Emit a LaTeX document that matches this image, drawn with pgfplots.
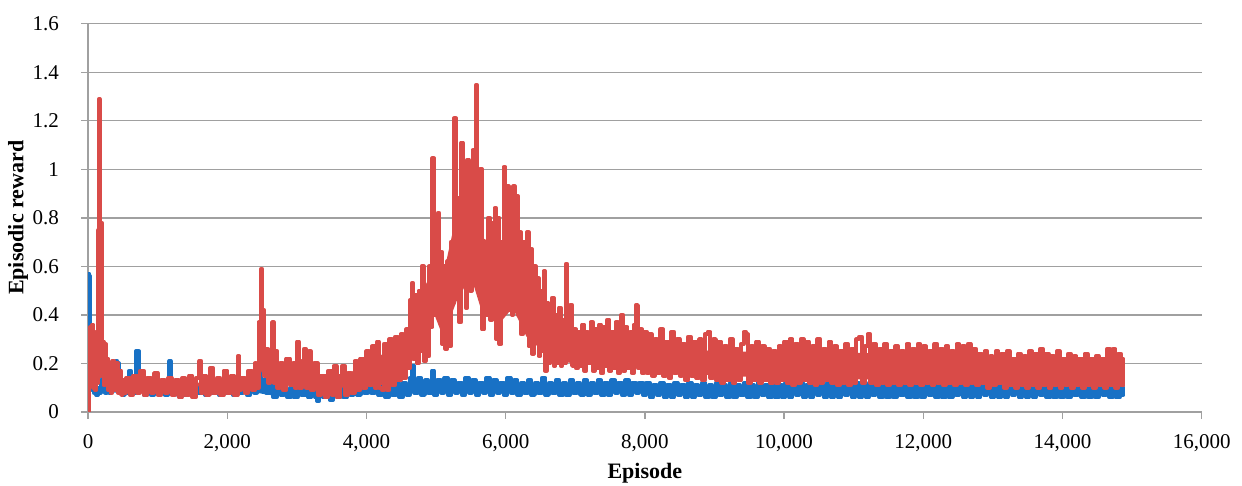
\documentclass[border=0pt]{standalone}
\usepackage{fontspec}
\setmainfont{Liberation Serif}
\usepackage{pgfplots}
\pgfplotsset{compat=1.18}
\definecolor{redS}{RGB}{217,75,72}
\definecolor{blueS}{RGB}{24,113,197}
\definecolor{gridgray}{RGB}{160,160,160}
\begin{document}
\begin{tikzpicture}
\useasboundingbox (-44pt,-36.65pt) rectangle (576.65pt,205.85pt);
\begin{axis}[
  scale only axis, width=556.5pt, height=194pt,
  xmin=0, xmax=16000, ymin=0, ymax=1.6,
  xtick={0,2000,4000,6000,8000,10000,12000,14000,16000},
  ytick={0,0.2,0.4,0.6,0.8,1,1.2,1.4,1.6},
  scaled x ticks=false, scaled y ticks=false,
  axis x line*=bottom, axis y line*=left,
  ymajorgrids, grid style={gridgray, line width=0.7pt},
  axis line style={gridgray, line width=0.7pt},
  tick style={gridgray, line width=0.7pt},
  tick align=outside, major tick length=3.5pt,
  /pgf/number format/assume math mode=true,
  /pgf/number format/1000 sep={,},
  tick label style={font=\fontsize{10.5}{12}\selectfont, text=black},
  xticklabel style={yshift=-4.5pt},
  yticklabel style={xshift=-7.5pt},
  label style={font=\fontsize{11}{13}\selectfont\bfseries},
  xlabel={Episode}, ylabel={Episodic reward},
  xlabel style={at={(axis description cs:0.5,-0.157)}, anchor=center},
  ylabel style={at={(axis description cs:-0.0629,0.5)}, anchor=center},
  every axis plot/.append style={line join=round, line cap=round},
]
% blue band body (upper edge forward, lower edge backward)
\addplot[fill=blueS, draw=none, forget plot] coordinates {
(0,0.11) (40,0.12) (100,0.1) (400,0.11) (2400,0.11) (2600,0.1) (3300,0.09) (3600,0.095) (4000,0.12) (4300,0.1)
(4600,0.12) (8000,0.115) (8100,0.105) (14860,0.105)
(14860,0.075) (8100,0.07) (8000,0.08) (4600,0.08) (4300,0.07) (4000,0.085) (3600,0.065) (3300,0.06) (2600,0.07)
(2400,0.08) (400,0.08) (100,0.08) (40,0.1) (0,0.1)
} -- cycle;
\addplot[blueS, line width=2pt, const plot] coordinates {
(0,0.15) (8,0.57) (18,0.56) (28,0.3) (38,0.12) (50,0.09) (65,0.12) (80,0.08) (100,0.11) (120,0.07)
(140,0.1) (160,0.08) (180,0.13) (200,0.09) (220,0.14) (240,0.08) (270,0.13) (300,0.08) (330,0.14) (360,0.09)
(390,0.13) (405,0.21) (420,0.2) (440,0.09) (470,0.12) (500,0.07) (530,0.12) (560,0.08) (590,0.17) (615,0.09)
(645,0.13) (680,0.08) (690,0.25) (715,0.25) (730,0.09) (760,0.13) (800,0.07) (850,0.12) (900,0.07) (950,0.12)
(1000,0.08) (1050,0.12) (1100,0.07) (1150,0.11) (1170,0.21) (1185,0.08) (1230,0.12) (1280,0.07) (1330,0.11) (1380,0.07)
(1430,0.12) (1480,0.07) (1530,0.11) (1580,0.08) (1630,0.12) (1680,0.07) (1730,0.12) (1780,0.08) (1830,0.11) (1880,0.07)
(1930,0.12) (1980,0.08) (2030,0.11) (2080,0.07) (2130,0.12) (2180,0.08) (2230,0.11) (2280,0.07) (2330,0.12) (2380,0.08)
(2430,0.12) (2460,0.18) (2480,0.1) (2520,0.13) (2560,0.08) (2610,0.11) (2660,0.06) (2710,0.12) (2760,0.07) (2810,0.1)
(2860,0.06) (2910,0.11) (2960,0.06) (3010,0.1) (3060,0.07) (3110,0.11) (3160,0.06) (3210,0.1) (3260,0.06) (3290,0.045)
(3320,0.09) (3370,0.06) (3420,0.1) (3470,0.05) (3520,0.09) (3570,0.06) (3620,0.1) (3670,0.06) (3720,0.11) (3770,0.07)
(3820,0.12) (3870,0.07) (3920,0.13) (3970,0.08) (4020,0.14) (4070,0.08) (4120,0.13) (4170,0.07) (4220,0.12) (4270,0.06)
(4320,0.11) (4370,0.07) (4420,0.12) (4470,0.06) (4520,0.12) (4570,0.07) (4620,0.14) (4660,0.19) (4690,0.08) (4740,0.14)
(4790,0.07) (4840,0.13) (4890,0.08) (4940,0.17) (4970,0.07) (5020,0.13) (5070,0.08) (5120,0.14) (5170,0.07) (5220,0.13)
(5270,0.08) (5320,0.12) (5370,0.07) (5420,0.14) (5470,0.08) (5520,0.13) (5570,0.07) (5620,0.12) (5670,0.08) (5720,0.14)
(5770,0.07) (5820,0.13) (5870,0.08) (5920,0.12) (5970,0.07) (6020,0.14) (6070,0.08) (6120,0.13) (6170,0.07) (6220,0.12)
(6270,0.08) (6320,0.13) (6370,0.07) (6420,0.12) (6470,0.08) (6520,0.14) (6570,0.07) (6620,0.12) (6670,0.08) (6720,0.13)
(6770,0.07) (6820,0.12) (6870,0.07) (6920,0.13) (6970,0.08) (7020,0.12) (7070,0.07) (7120,0.13) (7170,0.07) (7220,0.12)
(7270,0.08) (7320,0.13) (7370,0.07) (7420,0.12) (7470,0.07) (7520,0.13) (7570,0.08) (7620,0.12) (7670,0.07) (7720,0.13)
(7770,0.07) (7820,0.12) (7870,0.08) (7920,0.12) (7970,0.07) (8020,0.12) (8070,0.06) (8120,0.11) (8170,0.07) (8220,0.12)
(8270,0.06) (8320,0.11) (8370,0.06) (8420,0.12) (8470,0.07) (8520,0.11) (8570,0.06) (8620,0.12) (8670,0.06) (8720,0.11)
(8770,0.07) (8820,0.12) (8870,0.06) (8920,0.11) (8970,0.06) (9020,0.12) (9070,0.07) (9120,0.11) (9170,0.06) (9220,0.12)
(9270,0.06) (9320,0.11) (9370,0.07) (9420,0.12) (9470,0.06) (9520,0.11) (9570,0.06) (9620,0.12) (9670,0.07) (9720,0.11)
(9770,0.06) (9820,0.12) (9870,0.06) (9920,0.11) (9970,0.06) (10020,0.12) (10070,0.06) (10120,0.11) (10170,0.07) (10220,0.12)
(10270,0.06) (10320,0.11) (10370,0.06) (10420,0.12) (10470,0.07) (10520,0.11) (10570,0.06) (10620,0.12) (10670,0.06) (10720,0.11)
(10770,0.06) (10820,0.12) (10870,0.07) (10920,0.11) (10970,0.06) (11020,0.12) (11070,0.06) (11120,0.11) (11170,0.06) (11220,0.12)
(11270,0.07) (11320,0.11) (11370,0.06) (11420,0.11) (11470,0.06) (11520,0.12) (11570,0.06) (11620,0.11) (11670,0.07) (11720,0.12)
(11770,0.06) (11820,0.11) (11870,0.06) (11920,0.12) (11970,0.06) (12020,0.11) (12070,0.07) (12120,0.12) (12170,0.06) (12220,0.11)
(12270,0.06) (12320,0.12) (12370,0.06) (12420,0.11) (12470,0.07) (12520,0.12) (12570,0.06) (12620,0.11) (12670,0.06) (12720,0.12)
(12770,0.06) (12820,0.11) (12870,0.07) (12920,0.11) (12970,0.06) (13020,0.12) (13070,0.06) (13120,0.11) (13170,0.06) (13220,0.11)
(13270,0.07) (13320,0.12) (13370,0.06) (13420,0.11) (13470,0.06) (13520,0.11) (13570,0.06) (13620,0.12) (13670,0.07) (13720,0.11)
(13770,0.06) (13820,0.11) (13870,0.06) (13920,0.12) (13970,0.06) (14020,0.11) (14070,0.06) (14120,0.11) (14170,0.07) (14220,0.12)
(14270,0.06) (14320,0.11) (14370,0.06) (14420,0.11) (14470,0.06) (14520,0.12) (14570,0.07) (14620,0.11) (14670,0.06) (14720,0.11)
(14770,0.06) (14820,0.12) (14860,0.07) (14875,0.1)
};
% red band body (upper edge forward, lower edge backward)
\addplot[fill=redS, draw=none, forget plot] coordinates {
(10,0.12) (20,0.27) (140,0.27) (200,0.2) (300,0.14) (500,0.12) (1500,0.12) (2400,0.13) (2440,0.22) (2530,0.22)
(2700,0.17) (3300,0.13) (3500,0.13) (3900,0.18) (4300,0.25) (4560,0.29) (4700,0.44) (4950,0.58) (5100,0.56) (5300,0.82)
(5500,0.88) (5650,0.72) (5900,0.68) (6100,0.8) (6300,0.63) (6500,0.46) (6700,0.37) (7000,0.31) (8000,0.28) (9000,0.25)
(12000,0.24) (13000,0.21) (14860,0.2)
(14860,0.13) (13000,0.13) (12000,0.13) (10000,0.14) (9000,0.15) (8000,0.18) (7000,0.2) (6700,0.21) (6500,0.26) (6300,0.31)
(6100,0.43) (5900,0.36) (5650,0.42) (5500,0.56) (5300,0.46) (5100,0.31) (4950,0.42) (4700,0.24) (4560,0.16) (4300,0.12)
(4200,0.11) (3800,0.11) (3500,0.09) (3300,0.1) (2700,0.13) (2500,0.17) (2400,0.11) (500,0.1) (400,0.11) (260,0.13)
(200,0.2) (140,0.15) (20,0.15)
} -- cycle;
\addplot[redS, line width=2pt, const plot] coordinates {
(0,0.0) (10,0.30) (20,0.12) (30,0.35) (45,0.15) (60,0.36) (75,0.10) (90,0.33) (105,0.09) (120,0.30)
(135,0.12) (150,0.75) (158,1.29) (166,0.70) (175,0.15) (185,0.78) (195,0.20) (210,0.29) (225,0.11) (240,0.28)
(255,0.12) (270,0.22) (290,0.09) (310,0.20) (330,0.08) (350,0.21) (375,0.09) (400,0.20) (425,0.08) (450,0.17)
(475,0.07) (500,0.13) (525,0.08) (550,0.14) (600,0.07) (650,0.15) (700,0.08) (750,0.17) (800,0.07) (850,0.14)
(900,0.08) (950,0.16) (1000,0.07) (1050,0.13) (1100,0.08) (1150,0.14) (1200,0.07) (1250,0.13) (1300,0.06) (1350,0.14)
(1400,0.07) (1450,0.15) (1500,0.06) (1550,0.14) (1600,0.21) (1625,0.08) (1650,0.15) (1700,0.07) (1750,0.18) (1800,0.08)
(1850,0.14) (1900,0.07) (1950,0.17) (2000,0.08) (2050,0.15) (2100,0.07) (2150,0.23) (2175,0.09) (2200,0.14) (2250,0.08)
(2300,0.17) (2350,0.09) (2400,0.2) (2420,0.1) (2450,0.37) (2470,0.2) (2486,0.59) (2500,0.3) (2515,0.42) (2530,0.15)
(2560,0.26) (2590,0.12) (2620,0.23) (2645,0.37) (2665,0.12) (2690,0.25) (2720,0.1) (2760,0.2) (2800,0.09) (2850,0.22)
(2900,0.11) (2950,0.2) (2975,0.1) (3000,0.29) (3030,0.1) (3070,0.21) (3100,0.26) (3130,0.1) (3170,0.25) (3200,0.09)
(3250,0.2) (3300,0.07) (3350,0.15) (3400,0.06) (3450,0.17) (3500,0.07) (3530,0.19) (3570,0.06) (3620,0.15) (3650,0.19)
(3690,0.07) (3740,0.16) (3780,0.08) (3830,0.21) (3870,0.09) (3910,0.22) (3950,0.1) (4000,0.25) (4040,0.11) (4080,0.27)
(4120,0.1) (4150,0.29) (4180,0.1) (4220,0.09) (4250,0.28) (4290,0.09) (4330,0.3) (4370,0.11) (4410,0.31) (4450,0.13)
(4490,0.32) (4530,0.14) (4570,0.34) (4600,0.18) (4625,0.46) (4650,0.53) (4675,0.22) (4700,0.48) (4725,0.2) (4750,0.5)
(4775,0.25) (4795,0.60) (4820,0.21) (4850,0.45) (4875,0.23) (4900,0.6) (4920,0.35) (4948,1.045) (4970,0.4) (4990,0.72)
(5010,0.45) (5025,0.82) (5045,0.38) (5065,0.66) (5085,0.28) (5110,0.6) (5135,0.26) (5160,0.62) (5185,0.27) (5210,0.7)
(5235,0.45) (5260,1.21) (5285,0.5) (5310,0.88) (5330,0.37) (5360,1.11) (5385,0.55) (5410,0.9) (5425,0.43) (5450,1.04)
(5470,0.6) (5490,0.5) (5510,0.9) (5525,1.08) (5545,0.6) (5570,1.347) (5590,0.65) (5610,0.55) (5630,1.0) (5660,0.34)
(5690,0.7) (5715,0.4) (5750,0.8) (5780,0.38) (5810,0.78) (5840,0.84) (5865,0.3) (5890,0.8) (5910,0.28) (5940,0.7)
(5970,1.01) (5995,0.45) (6020,0.93) (6045,0.42) (6070,0.85) (6090,0.4) (6110,0.93) (6130,0.45) (6150,0.89) (6175,0.4)
(6200,0.74) (6220,0.32) (6250,0.7) (6280,0.35) (6305,0.74) (6330,0.27) (6355,0.67) (6380,0.24) (6400,0.60) (6430,0.3)
(6455,0.55) (6475,0.23) (6500,0.5) (6520,0.25) (6545,0.58) (6565,0.17) (6590,0.45) (6615,0.2) (6640,0.42) (6665,0.47)
(6690,0.19) (6715,0.4) (6740,0.2) (6765,0.43) (6790,0.19) (6815,0.38) (6840,0.2) (6865,0.61) (6885,0.22) (6910,0.38)
(6930,0.44) (6955,0.19) (6980,0.34) (7010,0.18) (7040,0.33) (7070,0.19) (7100,0.36) (7130,0.17) (7160,0.33) (7190,0.2)
(7220,0.37) (7250,0.17) (7280,0.34) (7310,0.18) (7340,0.36) (7370,0.16) (7400,0.35) (7430,0.19) (7460,0.38) (7490,0.17)
(7520,0.33) (7550,0.18) (7580,0.37) (7610,0.16) (7640,0.36) (7660,0.40) (7690,0.17) (7720,0.35) (7750,0.18) (7780,0.33)
(7810,0.16) (7840,0.36) (7870,0.44) (7900,0.18) (7930,0.34) (7960,0.16) (7990,0.33) (8030,0.16) (8060,0.32) (8100,0.15)
(8140,0.3) (8180,0.16) (8220,0.34) (8260,0.15) (8300,0.29) (8340,0.14) (8380,0.33) (8420,0.16) (8460,0.3) (8500,0.15)
(8540,0.28) (8580,0.13) (8620,0.31) (8660,0.15) (8700,0.29) (8740,0.14) (8780,0.3) (8820,0.13) (8860,0.32) (8900,0.33)
(8940,0.14) (8980,0.3) (9020,0.13) (9060,0.29) (9100,0.12) (9140,0.27) (9180,0.13) (9220,0.3) (9260,0.12) (9300,0.26)
(9340,0.13) (9380,0.28) (9420,0.33) (9450,0.32) (9480,0.12) (9520,0.27) (9560,0.13) (9600,0.29) (9640,0.12) (9680,0.27)
(9720,0.13) (9760,0.26) (9800,0.12) (9840,0.25) (9880,0.12) (9920,0.27) (9960,0.13) (10000,0.29) (10040,0.12) (10080,0.3)
(10120,0.11) (10160,0.28) (10200,0.12) (10240,0.3) (10280,0.13) (10320,0.29) (10360,0.12) (10400,0.27) (10440,0.11) (10480,0.3)
(10520,0.12) (10560,0.26) (10600,0.13) (10640,0.29) (10680,0.12) (10720,0.27) (10760,0.11) (10800,0.25) (10840,0.12) (10880,0.28)
(10920,0.11) (10960,0.26) (11000,0.12) (11040,0.3) (11080,0.31) (11120,0.12) (11160,0.27) (11200,0.32) (11240,0.12) (11280,0.28)
(11320,0.11) (11360,0.26) (11400,0.12) (11440,0.28) (11480,0.11) (11520,0.25) (11560,0.12) (11600,0.27) (11640,0.11) (11680,0.25)
(11720,0.12) (11760,0.28) (11800,0.11) (11840,0.26) (11880,0.12) (11920,0.28) (11960,0.11) (12000,0.27) (12040,0.12) (12080,0.25)
(12120,0.11) (12160,0.28) (12200,0.12) (12240,0.26) (12280,0.11) (12320,0.27) (12360,0.12) (12400,0.25) (12440,0.11) (12480,0.28)
(12520,0.12) (12560,0.27) (12600,0.11) (12640,0.28) (12680,0.12) (12720,0.26) (12760,0.11) (12800,0.24) (12840,0.12) (12880,0.25)
(12920,0.1) (12960,0.23) (13000,0.11) (13040,0.25) (13080,0.12) (13120,0.24) (13160,0.1) (13200,0.25) (13240,0.11) (13280,0.22)
(13320,0.1) (13360,0.24) (13400,0.11) (13440,0.23) (13480,0.1) (13520,0.25) (13560,0.11) (13600,0.24) (13640,0.1) (13680,0.26)
(13720,0.11) (13760,0.24) (13800,0.1) (13840,0.23) (13880,0.11) (13920,0.25) (13960,0.1) (14000,0.22) (14040,0.11) (14080,0.24)
(14120,0.1) (14160,0.23) (14200,0.11) (14240,0.22) (14280,0.1) (14320,0.24) (14360,0.11) (14400,0.22) (14440,0.1) (14480,0.23)
(14520,0.11) (14560,0.22) (14600,0.1) (14640,0.26) (14680,0.11) (14720,0.26) (14760,0.1) (14800,0.24) (14840,0.11) (14870,0.22)
(14875,0.11)
};
\end{axis}
\end{tikzpicture}
\end{document}
